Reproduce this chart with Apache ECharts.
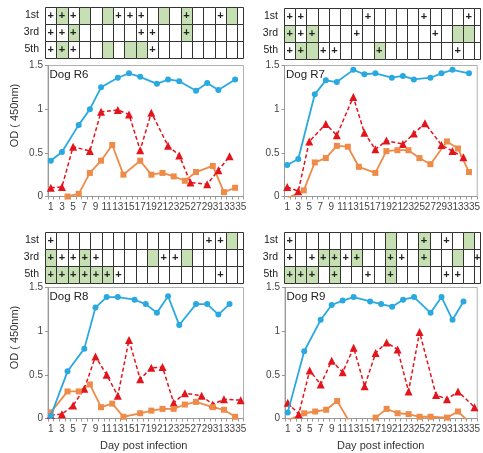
<!DOCTYPE html>
<html><head><meta charset="utf-8">
<script src="https://cdn.jsdelivr.net/npm/echarts@6/dist/echarts.min.js"></script>
<style>html,body{margin:0;padding:0;background:#fff}#c{width:483px;height:453px}</style>
</head><body><div id="c"></div>
<script>
// ---------- categories / tick labels ----------
const DAYS = ['1','2','3','4','5','6','7','8','9','10','11','12','13','14','15','16','17','18','19','20','21','22','23','24','25','26','27','28','29','30','31','32','33','34','35'];
const ROWS = ['1st','3rd','5th'];
const Y_TICKS = [0, 0.5, 1, 1.5];

// ---------- Dog R6 ----------
const r6BlueDays = [1,3,6,8,10,13,15,17,20,22,24,27,29,31,34];
const r6Blue = [0.41,0.51,0.82,1.00,1.25,1.36,1.41,1.37,1.29,1.34,1.32,1.21,1.30,1.22,1.34];
const r6RedDays = [1,3,5,8,10,13,15,17,19,22,24,26,29,31,33];
const r6Red = [0.10,0.11,0.57,0.52,0.97,0.99,0.94,0.53,0.96,0.58,0.47,0.16,0.14,0.30,0.46];
const r6OrangeDays = [4,6,8,10,12,14,17,19,21,23,25,27,30,32,34];
const r6Orange = [0.00,0.03,0.27,0.41,0.59,0.25,0.41,0.25,0.27,0.23,0.18,0.28,0.35,0.05,0.10];
const r6Plus1 = [1,2,3,7,8,9,13,16], r6Green1 = [2,4,6,11,13,17];
const r6Plus3 = [1,2,3,9,10,13],     r6Green3 = [3,13];
const r6Plus5 = [1,2,3,10],          r6Green5 = [2,6,8,9];

// ---------- Dog R7 ----------
const r7BlueDays = [1,3,6,8,10,13,15,17,20,22,24,27,29,31,34];
const r7Blue = [0.36,0.43,1.17,1.33,1.31,1.45,1.40,1.41,1.36,1.38,1.34,1.36,1.41,1.45,1.41];
const r7RedDays = [1,3,5,8,10,13,15,17,19,22,24,26,29,31,33];
const r7Red = [0.11,0.06,0.63,0.83,0.70,1.14,0.73,0.54,0.64,0.60,0.72,0.84,0.59,0.52,0.45];
const r7OrangeDays = [1,4,6,8,10,12,14,17,19,21,23,25,27,30,32,34];
const r7Orange = [-0.02,0.07,0.39,0.44,0.58,0.57,0.34,0.27,0.52,0.53,0.53,0.44,0.37,0.63,0.55,0.28];
const r7Plus1 = [1,2,8,13,17],       r7Green1 = [];
const r7Plus3 = [1,2,3,7,14],        r7Green3 = [1,3,16,17];
const r7Plus5 = [1,2,4,5,9,16],      r7Green5 = [2,3,9];

// ---------- Dog R8 ----------
const r8BlueDays = [1,4,7,9,11,13,16,18,20,22,24,27,29,31,33];
const r8Blue = [0.03,0.54,0.80,1.27,1.39,1.39,1.36,1.31,1.21,1.40,1.07,1.31,1.31,1.19,1.31];
const r8RedDays = [1,3,5,7,9,11,13,15,17,19,21,23,25,28,30,32,35];
const r8Red = [0.04,0.05,0.15,0.34,0.71,0.50,0.26,0.90,0.45,0.58,0.59,0.18,0.29,0.26,0.16,0.22,0.21];
const r8OrangeDays = [1,4,6,8,10,12,14,17,19,21,23,25,27,30,32,34];
const r8Orange = [0.07,0.31,0.31,0.39,0.13,0.17,0.02,0.06,0.09,0.11,0.11,0.16,0.19,0.13,0.10,0.02];
const r8Plus1 = [1,15,16],               r8Green1 = [17];
const r8Plus3 = [1,2,3,4,5,11,12],       r8Green3 = [1,4,10,13];
const r8Plus5 = [1,2,3,4,5,6,7,16],      r8Green5 = [1,2,3,4,5,6];

// ---------- Dog R9 ----------
const r9BlueDays = [1,4,7,9,11,13,16,18,20,22,24,27,29,31,33];
const r9Blue = [0.07,0.77,1.13,1.30,1.35,1.39,1.34,1.31,1.28,1.36,1.39,1.21,1.39,1.13,1.34];
const r9RedDays = [1,3,5,7,9,11,13,15,17,19,21,23,25,28,30,32,35];
const r9Red = [0.18,0.05,0.55,0.39,0.66,0.53,0.81,0.37,0.75,0.87,0.79,0.31,0.99,0.27,0.22,0.31,0.13];
const r9OrangeDays = [1,4,6,8,10,13,15,17,19,21,23,25,27,30,32,34];
const r9Orange = [-0.02,0.06,0.08,0.10,0.20,-0.12,-0.06,0.01,0.11,0.06,0.05,0.02,0.02,0.01,0.08,-0.04];
const r9Plus1 = [1,13,15],                   r9Green1 = [10,13,17];
const r9Plus3 = [1,3,4,5,6,7,10,11,13,18],   r9Green3 = [4,5,7,10,13,16];
const r9Plus5 = [1,2,3,5,8,10,15,16],        r9Green5 = [1,2,3,5,10];

const N_COLS = 18;

// ---------- styling ----------
const FONT = 'Liberation Sans, Arial, sans-serif';
const BLUE = '#29a9e0', RED = '#e3141c', ORANGE = '#ee8b48', GREEN = '#c6e0b4';

const panels = [
  {title:'Dog R6', px:48,  py:65.5,  pw:195.5, tx:45,  ty:7,     tw:198, yName:true,  xName:false,
   blue:[r6BlueDays,r6Blue], red:[r6RedDays,r6Red], orange:[r6OrangeDays,r6Orange],
   table:[[r6Plus1,r6Green1],[r6Plus3,r6Green3],[r6Plus5,r6Green5]]},
  {title:'Dog R7', px:284.5, py:65.5, pw:195.5, tx:284, ty:7.5,  tw:196, yName:false, xName:false,
   blue:[r7BlueDays,r7Blue], red:[r7RedDays,r7Red], orange:[r7OrangeDays,r7Orange],
   table:[[r7Plus1,r7Green1],[r7Plus3,r7Green3],[r7Plus5,r7Green5]]},
  {title:'Dog R8', px:48,  py:287.5, pw:195.5, tx:45,  ty:231.5, tw:198, yName:true,  xName:true,
   blue:[r8BlueDays,r8Blue], red:[r8RedDays,r8Red], orange:[r8OrangeDays,r8Orange],
   table:[[r8Plus1,r8Green1],[r8Plus3,r8Green3],[r8Plus5,r8Green5]]},
  {title:'Dog R9', px:285, py:287.5, pw:195.5, tx:284, ty:231.5, tw:196, yName:false, xName:true,
   blue:[r9BlueDays,r9Blue], red:[r9RedDays,r9Red], orange:[r9OrangeDays,r9Orange],
   table:[[r9Plus1,r9Green1],[r9Plus3,r9Green3],[r9Plus5,r9Green5]]}
];

const grid = [], xAxis = [], yAxis = [], series = [], graphic = [];

function pairs(days, vals){ return days.map((d,i)=>[String(d), vals[i]]); }

function renderCell(params, api){
  const c = api.value(0), r = api.value(1), g = api.value(2), p = api.value(3);
  const a = api.coord([2*(c-1), r]);
  const b = api.coord([Math.min(2*c, 35), r]);
  const h = api.size([0,1])[1];
  const x0 = Math.round(a[0]) + 0.5, x1 = Math.round(b[0]) + 0.5;
  const y0 = Math.round(a[1]-h/2) + 0.5, y1 = Math.round(a[1]+h/2) + 0.5;
  const children = [{type:'rect', shape:{x:x0, y:y0, width:x1-x0, height:y1-y0},
    style:{fill: g ? GREEN : '#ffffff', stroke:'#333', lineWidth:1}}];
  if (p) children.push({type:'text', style:{text:'+', x:(a[0]+b[0])/2, y:a[1]+0.5, align:'center', verticalAlign:'middle',
    font:'bold 11px ' + FONT, fill:'#222'}});
  return {type:'group', children};
}

panels.forEach((P, i) => {
  const gp = 2*i, gt = 2*i+1;
  grid.push({left:P.px, top:P.py, width:P.pw, height:131, show:true, borderColor:'#b0b0b0', borderWidth:1, backgroundColor:'transparent'});
  grid.push({left:P.tx, top:P.ty, width:P.tw, height:51});

  xAxis.push({gridIndex:gp, type:'category', data:DAYS, boundaryGap:true,
    axisLine:{lineStyle:{color:'#999'}},
    axisTick:{show:true, interval:0, length:3, lineStyle:{color:'#999'}},
    axisLabel:{interval:1, fontSize:10, color:'#444', fontFamily:FONT, margin:6}});
  yAxis.push({gridIndex:gp, type:'value', min:Y_TICKS[0], max:Y_TICKS[Y_TICKS.length-1], interval:0.5,
    axisLine:{show:true, lineStyle:{color:'#999'}},
    axisTick:{show:true, length:3, lineStyle:{color:'#999'}},
    splitLine:{show:false},
    axisLabel:{fontSize:10, color:'#444', fontFamily:FONT, margin:5}});

  xAxis.push({gridIndex:gt, type:'value', min:0, max:35, show:false});
  yAxis.push({gridIndex:gt, type:'category', data:ROWS, inverse:true,
    axisLine:{show:false}, axisTick:{show:false}, splitLine:{show:false},
    axisLabel:{fontSize:10.5, color:'#222', fontFamily:FONT, margin:6}});

  const xi = 2*i, yi = 2*i;
  const common = {type:'line', xAxisIndex:xi, yAxisIndex:yi, showAllSymbol:true, clip:true, animation:false};
  series.push(Object.assign({}, common, {data:pairs(P.blue[0], P.blue[1]),
    symbol:'circle', symbolSize:6, color:BLUE, lineStyle:{color:BLUE, width:1.8}, itemStyle:{color:BLUE}, z:3}));
  series.push(Object.assign({}, common, {data:pairs(P.red[0], P.red[1]),
    symbol:'triangle', symbolSize:8, color:RED, lineStyle:{color:RED, width:1.5, type:[4,2.5]}, itemStyle:{color:RED}, z:2}));
  series.push(Object.assign({}, common, {data:pairs(P.orange[0], P.orange[1]),
    symbol:'rect', symbolSize:6, color:ORANGE, lineStyle:{color:ORANGE, width:1.8}, itemStyle:{color:ORANGE}, z:2}));

  const cells = [];
  P.table.forEach((row, r) => {
    for (let c = 1; c <= N_COLS; c++) {
      cells.push([c, r, row[1].includes(c) ? 1 : 0, row[0].includes(c) ? 1 : 0]);
    }
  });
  series.push({type:'custom', xAxisIndex:2*i+1, yAxisIndex:2*i+1, data:cells, renderItem:renderCell,
    animation:false, silent:true});

  graphic.push({type:'text', left:P.px + 1.5, top:P.py + 3,
    style:{text:P.title, font:'11.5px ' + FONT, fill:'#222'}});
  if (P.yName) graphic.push({type:'text', x:15, y:P.py + 50, rotation:Math.PI/2,
    style:{text:'OD ( 450nm)', font:'11px ' + FONT, fill:'#333', align:'center', verticalAlign:'middle'}});
  if (P.xName) graphic.push({type:'text', x:P.px + P.pw/2 - 2, y:446,
    style:{text:'Day post infection', font:'11px ' + FONT, fill:'#333', align:'center', verticalAlign:'middle'}});
});

const chart = echarts.init(document.getElementById('c'));
chart.setOption({backgroundColor:'#fff', animation:false, grid, xAxis, yAxis, series, graphic});
</script>
</body></html>
